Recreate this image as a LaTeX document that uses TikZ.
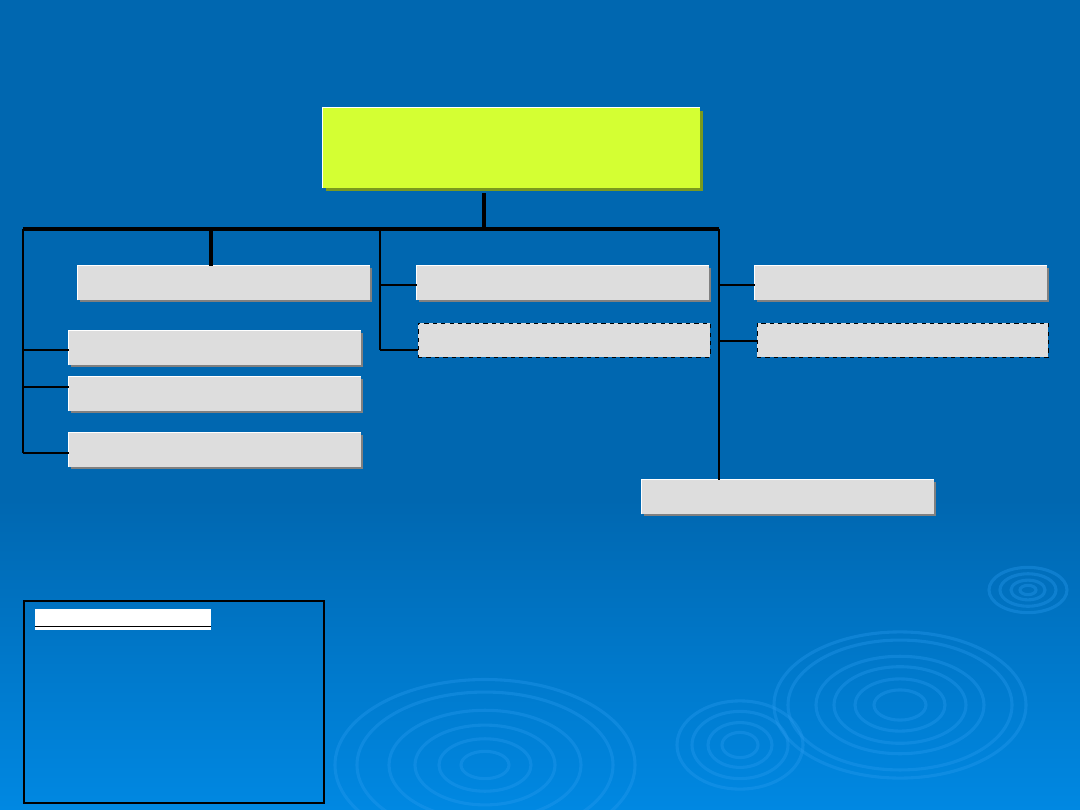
\documentclass[tikz,border=0pt]{standalone}
\usetikzlibrary{fit,shadows,calc}
\definecolor{bgtop}{HTML}{0067B0}
\definecolor{bgbot}{HTML}{0088E2}
\definecolor{ripple}{HTML}{2A9CF0}
\definecolor{topfill}{HTML}{D4FF33}
\definecolor{topshadow}{HTML}{7A9A1E}
\definecolor{boxfill}{HTML}{DDDDDD}
\definecolor{boxshadow}{HTML}{808080}
\tikzset{
  px/.style={x=0.025cm,y=-0.025cm},
  gbox/.style={inner sep=0pt, fill=boxfill, draw=none,
    drop shadow={shadow xshift=0.06cm, shadow yshift=-0.06cm, fill=boxshadow, opacity=1}},
  dbox/.style={inner sep=0pt, fill=boxfill, draw=black, dashed, line width=0.7pt},
  tbox/.style={inner sep=0pt, fill=topfill, draw=none,
    drop shadow={shadow xshift=0.07cm, shadow yshift=-0.07cm, fill=topshadow, opacity=1}},
  hl/.style={draw=white, line width=0.8pt},
  thickline/.style={draw=black, line width=2.6pt},
  midline/.style={draw=black, line width=1.4pt},
  thinline/.style={draw=black, line width=0.75pt},
  rip/.style={draw=ripple, opacity=0.35, line width=2.2pt},
}
\begin{document}
\begin{tikzpicture}[px]
\useasboundingbox (0,0) rectangle (1080,810);
% background
\fill[bgtop] (0,0) rectangle (1080,500);
\shade[top color=bgtop, bottom color=bgbot] (0,499) rectangle (1080,810);
% ripples
\begin{scope}
\clip (0,0) rectangle (1080,810);
\foreach \r in {126,112,84,66,45,26} \draw[rip] (900,705) ellipse ({\r} and {\r*0.58});
\foreach \r in {63,48,32,18} \draw[rip] (740,745) ellipse ({\r} and {\r*0.7});
\foreach \r in {39,28,17,8} \draw[rip] (1028,590) ellipse ({\r} and {\r*0.58});
\foreach \r in {150,128,96,70,46,24} \draw[rip] (485,765) ellipse ({\r} and {\r*0.57});
\end{scope}
% top box
\node[tbox, fit={(323,108) (700,188)}] (top) {};
\draw[hl] (top.south west) -- (top.north west) -- (top.north east);
% left column
\node[gbox, fit={(78,266) (370,300)}] (l0) {};
\node[gbox, fit={(69,331) (361,365)}] (l1) {};
\node[gbox, fit={(69,377) (361,411)}] (l2) {};
\node[gbox, fit={(69,433) (361,467)}] (l3) {};
% middle column
\node[gbox, fit={(417,266) (709,300)}] (m0) {};
\node[dbox, fit={(418,323) (710,357)}] (m1) {};
% right column
\node[gbox, fit={(755,266) (1047,300)}] (r0) {};
\node[dbox, fit={(757,323) (1048,357)}] (r1) {};
% bottom box
\node[gbox, fit={(642,480) (934,514)}] (b0) {};
\foreach \n in {l0,l1,l2,l3,m0,r0,b0}
  \draw[hl] (\n.south west) -- (\n.north west) -- (\n.north east);
% connector coordinates
\coordinate (barL) at (23,229);
\coordinate (barR) at (719,229);
\coordinate (jTop) at (484,229);
\coordinate (jL0) at (211,229);
\coordinate (midV) at (380,229);
\coordinate (midEnd) at (380,350);
\coordinate (k1) at (23,350);
\coordinate (k2) at (23,387);
\coordinate (leftEnd) at (23,453);
\coordinate (q0) at (380,285);
\coordinate (q1) at (719,285);
\coordinate (q2) at (719,341);
% main bar
\draw[thickline] ($(jTop |- top.south)+(0,5)$) -- (jTop);
\draw[thickline] (barL) -- (barR);
\draw[thickline] (jL0 |- l0.north) -- (jL0);
% left spine
\draw[thinline] (barL) -- (leftEnd);
\draw[thinline] (k1) -- (l1.west |- k1);
\draw[midline] (k2) -- (l2.west |- k2);
\draw[thinline] (leftEnd) -- (l3.west |- leftEnd);
% middle spine
\draw[thinline] (midV) -- (midEnd);
\draw[thinline] (q0) -- (m0.west |- q0);
\draw[thinline] (midEnd) -- (m1.west |- midEnd);
% right spine
\draw[thinline] (barR) -- (barR |- b0.north);
\draw[thinline] (q1) -- (r0.west |- q1);
\draw[thinline] (q2) -- (r1.west |- q2);
% legend
\node[draw=black, line width=1.2pt, inner sep=0pt, fit={(24,601) (324,803)}] (leg) {};
\node[fill=white, inner sep=0pt, fit={(35,609) (211,630)}] (legt) {};
\draw[black, line width=1pt] ($(legt.west)+(0,7)$) -- ($(legt.east)+(0,7)$);
\end{tikzpicture}
\end{document}
